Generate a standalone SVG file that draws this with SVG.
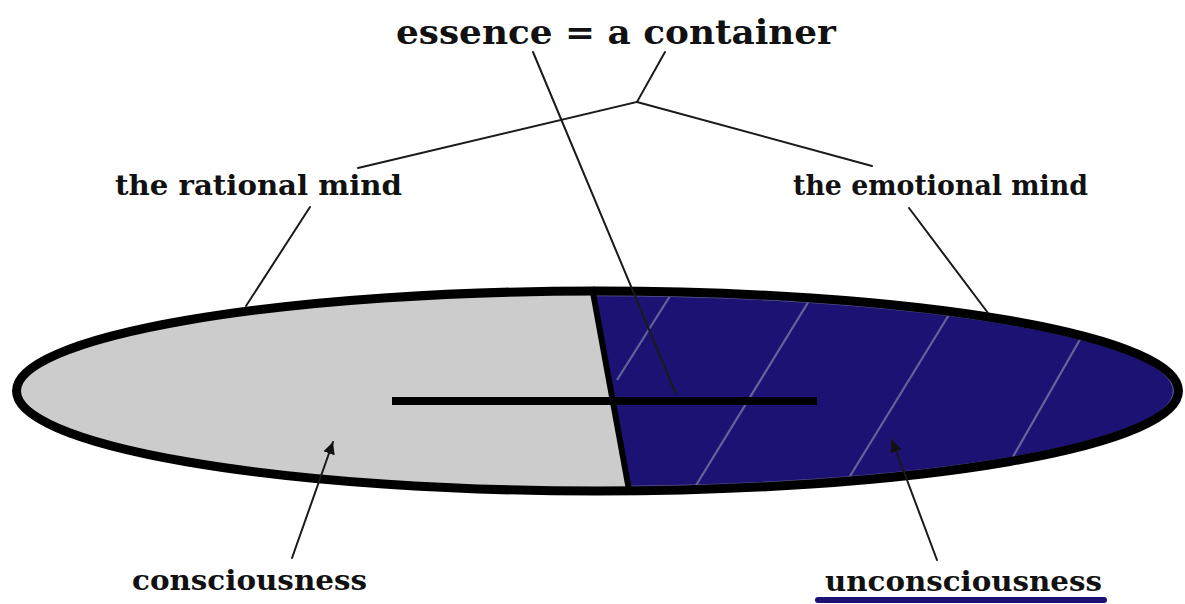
<svg xmlns="http://www.w3.org/2000/svg" width="1185" height="604" viewBox="0 0 1185 604">
  <style>
    .lbl { font-family: "DejaVu Serif", "Liberation Serif", serif; font-weight: bold; fill: #111; }
    .ln { stroke: #1a1a1a; stroke-width: 2; fill: none; stroke-linecap: round; }
    .hatch { stroke: #64649a; stroke-width: 2.2; fill: none; }
  </style>
  <defs>
    <clipPath id="ell">
      <ellipse cx="597.5" cy="391" rx="581" ry="100"/>
    </clipPath>
    <clipPath id="right">
      <polygon points="592,270 1200,270 1200,510 631,510"/>
    </clipPath>
    <marker id="arr" viewBox="0 0 10 10" refX="10" refY="5" markerWidth="6" markerHeight="6" orient="auto" markerUnits="strokeWidth">
      <path d="M0,0 L10,5 L0,10 z" fill="#111"/>
    </marker>
  </defs>
  <rect width="1185" height="604" fill="#ffffff"/>

  <g id="container">
    <ellipse cx="597.5" cy="391" rx="581" ry="100" fill="#cccccc"/>
    <g clip-path="url(#ell)">
      <g clip-path="url(#right)">
        <rect x="580" y="280" width="620" height="230" fill="#1c1274"/>
        <ellipse cx="597.5" cy="391" rx="576" ry="95.5" fill="none" stroke="#5a5a90" stroke-width="1.5"/>
        <line class="hatch" x1="617" y1="380" x2="670" y2="296"/>
        <line class="hatch" x1="812" y1="296" x2="695" y2="487"/>
        <line class="hatch" x1="950" y1="313" x2="847" y2="481"/>
        <line class="hatch" x1="1082" y1="336" x2="1010" y2="462"/>
      </g>
    </g>
    <ellipse cx="597.5" cy="391" rx="581" ry="100" fill="none" stroke="#000" stroke-width="9"/>
    <line x1="592" y1="287" x2="629" y2="490" stroke="#000" stroke-width="6"/>
    <line x1="392" y1="401" x2="817" y2="401" stroke="#000" stroke-width="8"/>
  </g>

  <g id="connectors">
    <line class="ln" x1="533" y1="52" x2="676" y2="394"/>
    <polyline class="ln" points="665,52 637,102 358,168"/>
    <line class="ln" x1="637" y1="102" x2="872" y2="166"/>
    <line class="ln" x1="310" y1="207" x2="246" y2="306"/>
    <line class="ln" x1="909" y1="208" x2="988" y2="313"/>
    <line class="ln" x1="292" y1="558" x2="333" y2="442" marker-end="url(#arr)" stroke-width="2.5"/>
    <line class="ln" x1="937" y1="560" x2="892" y2="440" marker-end="url(#arr)" stroke-width="2.5"/>
  </g>

  <g id="essence">
    <text class="lbl" x="396" y="44" font-size="33" textLength="440" lengthAdjust="spacingAndGlyphs">essence = a container</text>
  </g>
  <g id="rational">
    <text class="lbl" x="115" y="195" font-size="27" textLength="287" lengthAdjust="spacingAndGlyphs">the rational mind</text>
  </g>
  <g id="emotional">
    <text class="lbl" x="793" y="195" font-size="27" textLength="295" lengthAdjust="spacingAndGlyphs">the emotional mind</text>
  </g>
  <g id="consciousness">
    <text class="lbl" x="132" y="590" font-size="28" textLength="235" lengthAdjust="spacingAndGlyphs">consciousness</text>
  </g>
  <g id="unconsciousness">
    <text class="lbl" x="825" y="591" font-size="28" textLength="277" lengthAdjust="spacingAndGlyphs">unconsciousness</text>
    <line x1="818" y1="600" x2="1104" y2="600" stroke="#1c1274" stroke-width="6" stroke-linecap="round"/>
  </g>
</svg>
